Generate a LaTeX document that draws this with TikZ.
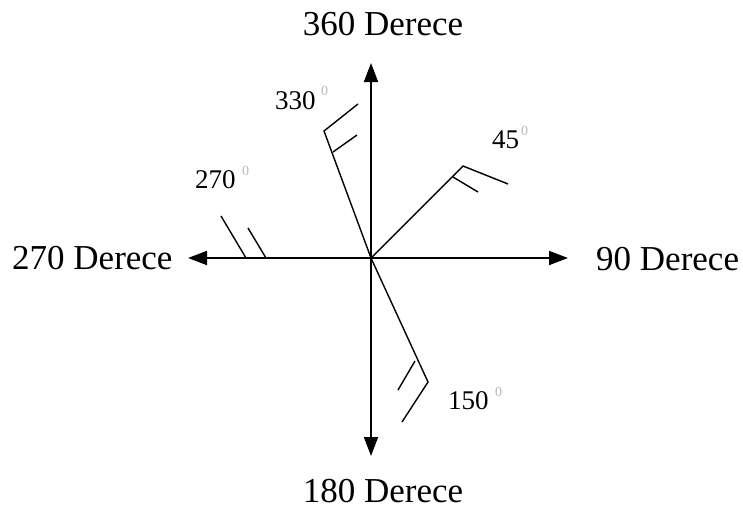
\documentclass[tikz,border=0pt]{standalone}
\usepackage{fontspec}
\setmainfont{Liberation Serif}
\usetikzlibrary{arrows.meta}
\begin{document}
\begin{tikzpicture}[x=1pt,y=-1pt,
  axis/.style={line width=1.8pt,-{Triangle[length=19pt,width=14pt]}},
  barb/.style={line width=1.4pt},
  biglbl/.style={font=\fontsize{35}{38}\selectfont,inner sep=0pt},
  smalllbl/.style={font=\fontsize{27}{30}\selectfont,inner sep=0pt,anchor=base west},
  supz/.style={font=\fontsize{14}{15}\selectfont,text=gray!55,inner sep=0pt,anchor=base west}]
\useasboundingbox (0,0) rectangle (743,512);
\coordinate (O) at (371,258);
\coordinate (T) at (371,63);
\coordinate (B) at (371,456);
\coordinate (L) at (188,258);
\coordinate (R) at (568,258);
\draw[axis] (O) -- (T);
\draw[axis] (O) -- (B);
\draw[axis] (O) -- (L);
\draw[axis] (O) -- (R);
\node[biglbl,anchor=base] (n360) at (383,35) {360 Derece};
\node[biglbl,anchor=base] (n180) at (383,502) {180 Derece};
\node[biglbl,anchor=base west] (n270) at (12,269) {270 Derece};
\node[biglbl,anchor=base west] (n90) at (596,270) {90 Derece};
% 330 barb
\coordinate (a1) at (324,131);
\coordinate (a2) at (358,104);
\coordinate (a3) at (333,152);
\coordinate (a4) at (357,135);
\draw[barb] (O) -- (a1) -- (a2);
\draw[barb] (a3) -- (a4);
% 45 barb
\coordinate (b1) at (463,166);
\coordinate (b2) at (508,184);
\coordinate (b3) at (453,177);
\coordinate (b4) at (478,192);
\draw[barb] (O) -- (b1) -- (b2);
\draw[barb] (b3) -- (b4);
% 270 barb
\coordinate (c1) at (246,258);
\coordinate (c2) at (221,216);
\coordinate (c3) at (266,258);
\coordinate (c4) at (248,228);
\draw[barb] (c1) -- (c2);
\draw[barb] (c3) -- (c4);
% 150 barb
\coordinate (d1) at (428,382);
\coordinate (d2) at (402,422);
\coordinate (d3) at (415,361);
\coordinate (d4) at (398,390);
\draw[barb] (O) -- (d1) -- (d2);
\draw[barb] (d3) -- (d4);
% small labels
\node[smalllbl] (s330) at (275,109) {330};
\node[supz] (z330) at (321,95) {0};
\node[smalllbl] (s45) at (492,148) {45};
\node[supz] (z45) at (521,135) {0};
\node[smalllbl] (s270) at (195,188) {270};
\node[supz] (z270) at (242,175) {0};
\node[smalllbl] (s150) at (448,409) {150};
\node[supz] (z150) at (495,396) {0};
\end{tikzpicture}
\end{document}
